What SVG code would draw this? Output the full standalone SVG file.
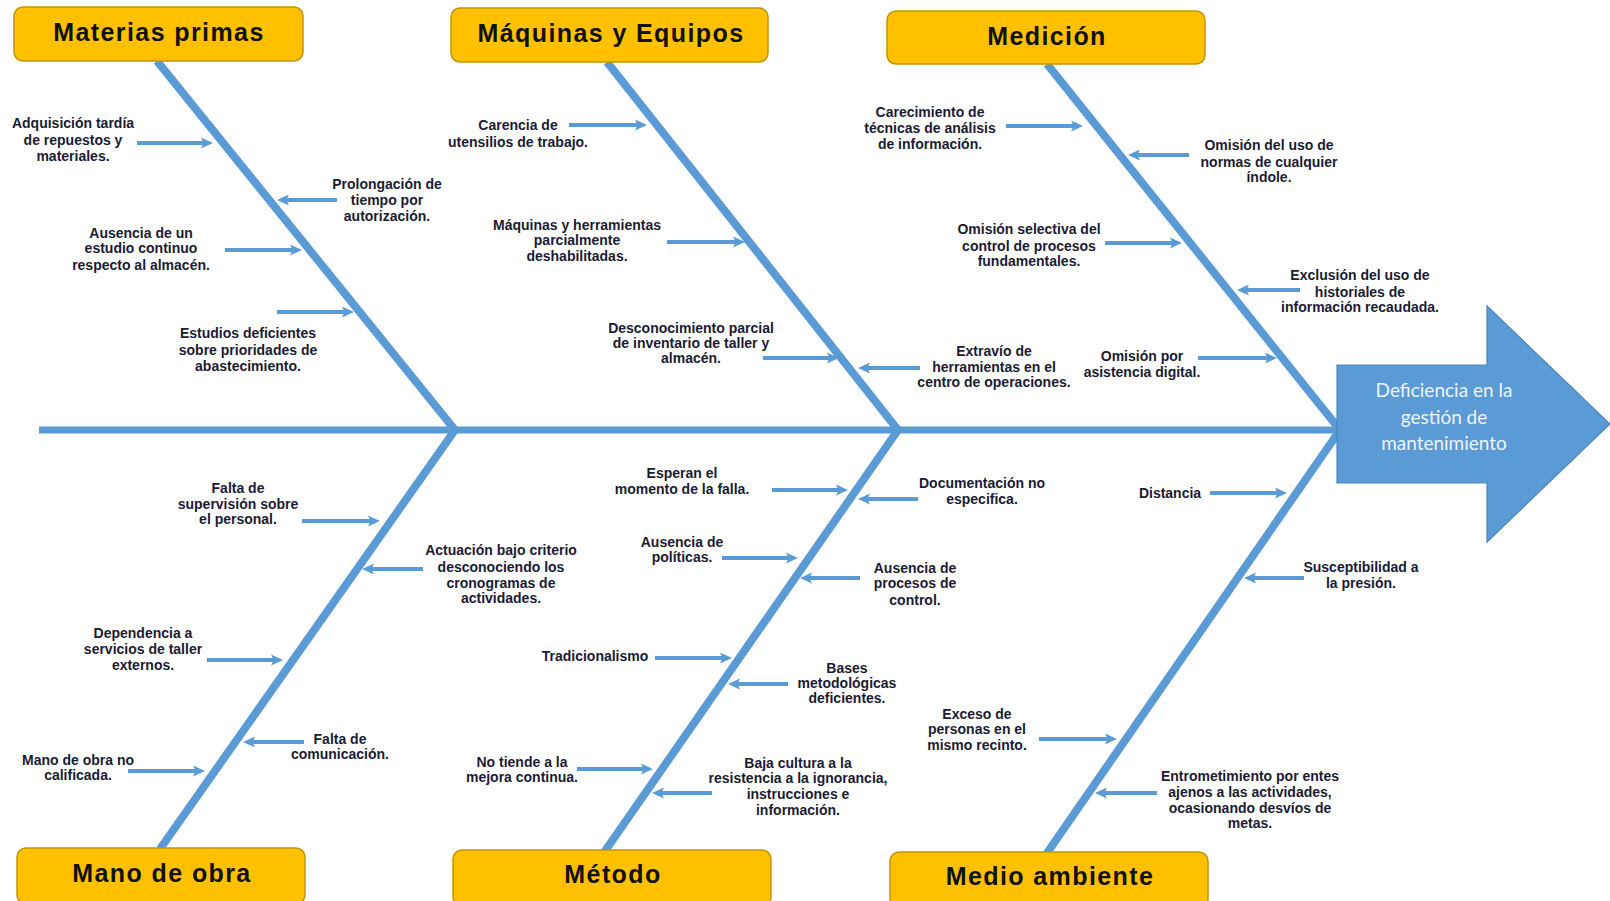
<svg xmlns="http://www.w3.org/2000/svg" width="1610" height="901" viewBox="0 0 1610 901">
<style>
.box{fill:#FFC000;stroke:#C39500;stroke-width:1.5}
.bt{font-family:"Liberation Sans",Arial,sans-serif;font-weight:bold;font-size:25px;letter-spacing:1.4px;fill:#111;text-anchor:middle}
.c{font-family:"Liberation Sans",Arial,sans-serif;font-weight:bold;font-size:14px;fill:#1b1b33;text-anchor:middle}
.bone{stroke:#5B9BD5;stroke-width:8;fill:none;stroke-linecap:butt}
.ar{stroke:#5B9BD5;stroke-width:4;fill:none;marker-end:url(#ah)}
.eff{fill:#5B9BD5;stroke:#4A86C0;stroke-width:1.2}
.et{font-family:Lato,"Open Sans",sans-serif;font-size:19px;fill:#EEF4FB;text-anchor:middle}
</style>
<defs>
<marker id="ah" viewBox="0 0 12 12" refX="3" refY="6" markerWidth="12" markerHeight="12" markerUnits="userSpaceOnUse" orient="auto">
<path d="M0,0.5 L12,6 L0,11.5 L2.5,6 Z" fill="#5B9BD5"/>
</marker>
</defs>
<rect width="1610" height="901" fill="#fff"/>

<g id="connectors">
<line class="bone" x1="39" y1="430" x2="1342" y2="430" style="stroke-width:7"/>
<line class="bone" x1="157" y1="61" x2="455" y2="430"/>
<line class="bone" x1="607" y1="62" x2="898" y2="430"/>
<line class="bone" x1="1047" y1="64" x2="1340" y2="430"/>
<line class="bone" x1="455" y1="430" x2="160" y2="849"/>
<line class="bone" x1="898" y1="430" x2="605" y2="851"/>
<line class="bone" x1="1340" y1="430" x2="1047" y2="853"/>

<line class="ar" x1="137" y1="143" x2="204" y2="143"/>
<line class="ar" x1="225" y1="250" x2="293" y2="250"/>
<line class="ar" x1="277" y1="312" x2="345" y2="312"/>
<line class="ar" x1="569" y1="125" x2="638" y2="125"/>
<line class="ar" x1="667" y1="242" x2="736" y2="242"/>
<line class="ar" x1="763" y1="358" x2="830" y2="358"/>
<line class="ar" x1="1006" y1="126" x2="1074" y2="126"/>
<line class="ar" x1="1105" y1="243" x2="1173" y2="243"/>
<line class="ar" x1="1198" y1="358" x2="1268" y2="358"/>
<line class="ar" x1="302" y1="521" x2="371" y2="521"/>
<line class="ar" x1="207" y1="660" x2="274" y2="660"/>
<line class="ar" x1="128" y1="771" x2="196" y2="771"/>
<line class="ar" x1="772" y1="490" x2="839" y2="490"/>
<line class="ar" x1="722" y1="558" x2="789" y2="558"/>
<line class="ar" x1="655" y1="658" x2="723" y2="658"/>
<line class="ar" x1="577" y1="769" x2="644" y2="769"/>
<line class="ar" x1="1210" y1="493" x2="1278" y2="493"/>
<line class="ar" x1="1039" y1="739" x2="1108" y2="739"/>

<line class="ar" x1="337" y1="200" x2="286" y2="200"/>
<line class="ar" x1="1189" y1="155" x2="1137" y2="155"/>
<line class="ar" x1="1300" y1="290" x2="1246" y2="290"/>
<line class="ar" x1="920" y1="368" x2="867" y2="368"/>
<line class="ar" x1="423" y1="569" x2="371" y2="569"/>
<line class="ar" x1="304" y1="742" x2="252" y2="742"/>
<line class="ar" x1="918" y1="499" x2="867" y2="499"/>
<line class="ar" x1="860" y1="578" x2="809" y2="578"/>
<line class="ar" x1="788" y1="684" x2="737" y2="684"/>
<line class="ar" x1="712" y1="793" x2="661" y2="793"/>
<line class="ar" x1="1304" y1="578" x2="1253" y2="578"/>
<line class="ar" x1="1157" y1="793" x2="1104" y2="793"/>
</g>

<g id="effect">
<path class="eff" d="M1337,365 L1487,365 L1487,306 L1610,424 L1487,542 L1487,483 L1337,483 Z"/>
<text class="et"><tspan x="1444" y="397">Deficiencia en la</tspan><tspan x="1444" y="423.5">gestión de</tspan><tspan x="1444" y="450">mantenimiento</tspan></text>
</g>

<g id="cat-materias"><rect class="box" x="14" y="7" width="289" height="54" rx="9"/><text class="bt" x="159" y="41">Materias primas</text></g>
<g id="cat-maquinas"><rect class="box" x="451" y="8" width="317" height="54" rx="9"/><text class="bt" x="611" y="42">Máquinas y Equipos</text></g>
<g id="cat-medicion"><rect class="box" x="887" y="11" width="318" height="53" rx="9"/><text class="bt" x="1047" y="45">Medición</text></g>
<g id="cat-mano"><rect class="box" x="17" y="848" width="288" height="56" rx="9"/><text class="bt" x="162" y="882">Mano de obra</text></g>
<g id="cat-metodo"><rect class="box" x="453" y="850" width="318" height="56" rx="9"/><text class="bt" x="613" y="883">Método</text></g>
<g id="cat-medio"><rect class="box" x="890" y="852" width="318" height="56" rx="9"/><text class="bt" x="1050" y="885">Medio ambiente</text></g>

<g id="c1"><text class="c"><tspan x="73" y="128">Adquisición tardía</tspan><tspan x="73" y="145">de repuestos y</tspan><tspan x="73" y="161">materiales.</tspan></text></g>
<g id="c2"><text class="c"><tspan x="387" y="189">Prolongación de</tspan><tspan x="387" y="205">tiempo por</tspan><tspan x="387" y="221">autorización.</tspan></text></g>
<g id="c3"><text class="c"><tspan x="141" y="238">Ausencia de un</tspan><tspan x="141" y="253">estudio continuo</tspan><tspan x="141" y="270">respecto al almacén.</tspan></text></g>
<g id="c4"><text class="c"><tspan x="248" y="338">Estudios deficientes</tspan><tspan x="248" y="355">sobre prioridades de</tspan><tspan x="248" y="371">abastecimiento.</tspan></text></g>

<g id="c5"><text class="c"><tspan x="518" y="130">Carencia de</tspan><tspan x="518" y="147">utensilios de trabajo.</tspan></text></g>
<g id="c6"><text class="c"><tspan x="577" y="230">Máquinas y herramientas</tspan><tspan x="577" y="245">parcialmente</tspan><tspan x="577" y="261">deshabilitadas.</tspan></text></g>
<g id="c7"><text class="c"><tspan x="691" y="333">Desconocimiento parcial</tspan><tspan x="691" y="348">de inventario de taller y</tspan><tspan x="691" y="363">almacén.</tspan></text></g>

<g id="c8"><text class="c"><tspan x="930" y="117">Carecimiento de</tspan><tspan x="930" y="133">técnicas de análisis</tspan><tspan x="930" y="149">de información.</tspan></text></g>
<g id="c9"><text class="c"><tspan x="1269" y="150">Omisión del uso de</tspan><tspan x="1269" y="167">normas de cualquier</tspan><tspan x="1269" y="182">índole.</tspan></text></g>
<g id="c10"><text class="c"><tspan x="1029" y="234">Omisión selectiva del</tspan><tspan x="1029" y="251">control de procesos</tspan><tspan x="1029" y="266">fundamentales.</tspan></text></g>
<g id="c11"><text class="c"><tspan x="1360" y="280">Exclusión del uso de</tspan><tspan x="1360" y="297">historiales de</tspan><tspan x="1360" y="312">información recaudada.</tspan></text></g>
<g id="c12"><text class="c"><tspan x="1142" y="361">Omisión por</tspan><tspan x="1142" y="377">asistencia digital.</tspan></text></g>
<g id="c13"><text class="c"><tspan x="994" y="356">Extravío de</tspan><tspan x="994" y="372">herramientas en el</tspan><tspan x="994" y="387">centro de operaciones.</tspan></text></g>

<g id="c14"><text class="c"><tspan x="238" y="493">Falta de</tspan><tspan x="238" y="509">supervisión sobre</tspan><tspan x="238" y="524">el personal.</tspan></text></g>
<g id="c15"><text class="c"><tspan x="501" y="555">Actuación bajo criterio</tspan><tspan x="501" y="572">desconociendo los</tspan><tspan x="501" y="588">cronogramas de</tspan><tspan x="501" y="603">actividades.</tspan></text></g>
<g id="c16"><text class="c"><tspan x="143" y="638">Dependencia a</tspan><tspan x="143" y="654">servicios de taller</tspan><tspan x="143" y="670">externos.</tspan></text></g>
<g id="c17"><text class="c"><tspan x="340" y="744">Falta de</tspan><tspan x="340" y="759">comunicación.</tspan></text></g>
<g id="c18"><text class="c"><tspan x="78" y="765">Mano de obra no</tspan><tspan x="78" y="780">calificada.</tspan></text></g>

<g id="c19"><text class="c"><tspan x="682" y="478">Esperan el</tspan><tspan x="682" y="494">momento de la falla.</tspan></text></g>
<g id="c20"><text class="c"><tspan x="682" y="547">Ausencia de</tspan><tspan x="682" y="562">políticas.</tspan></text></g>
<g id="c21"><text class="c"><tspan x="595" y="661">Tradicionalismo</tspan></text></g>
<g id="c22"><text class="c"><tspan x="522" y="767">No tiende a la</tspan><tspan x="522" y="782">mejora continua.</tspan></text></g>
<g id="c23"><text class="c"><tspan x="982" y="488">Documentación no</tspan><tspan x="982" y="504">especifica.</tspan></text></g>
<g id="c24"><text class="c"><tspan x="915" y="573">Ausencia de</tspan><tspan x="915" y="588">procesos de</tspan><tspan x="915" y="605">control.</tspan></text></g>
<g id="c25"><text class="c"><tspan x="847" y="673">Bases</tspan><tspan x="847" y="688">metodológicas</tspan><tspan x="847" y="703">deficientes.</tspan></text></g>
<g id="c26"><text class="c"><tspan x="798" y="768">Baja cultura a la</tspan><tspan x="798" y="783">resistencia a la ignorancia,</tspan><tspan x="798" y="799">instrucciones e</tspan><tspan x="798" y="815">información.</tspan></text></g>

<g id="c27"><text class="c"><tspan x="1170" y="498">Distancia</tspan></text></g>
<g id="c28"><text class="c"><tspan x="1361" y="572">Susceptibilidad a</tspan><tspan x="1361" y="588">la presión.</tspan></text></g>
<g id="c29"><text class="c"><tspan x="977" y="719">Exceso de</tspan><tspan x="977" y="734">personas en el</tspan><tspan x="977" y="750">mismo recinto.</tspan></text></g>
<g id="c30"><text class="c"><tspan x="1250" y="781">Entrometimiento por entes</tspan><tspan x="1250" y="797">ajenos a las actividades,</tspan><tspan x="1250" y="813">ocasionando desvíos de</tspan><tspan x="1250" y="828">metas.</tspan></text></g>
</svg>
